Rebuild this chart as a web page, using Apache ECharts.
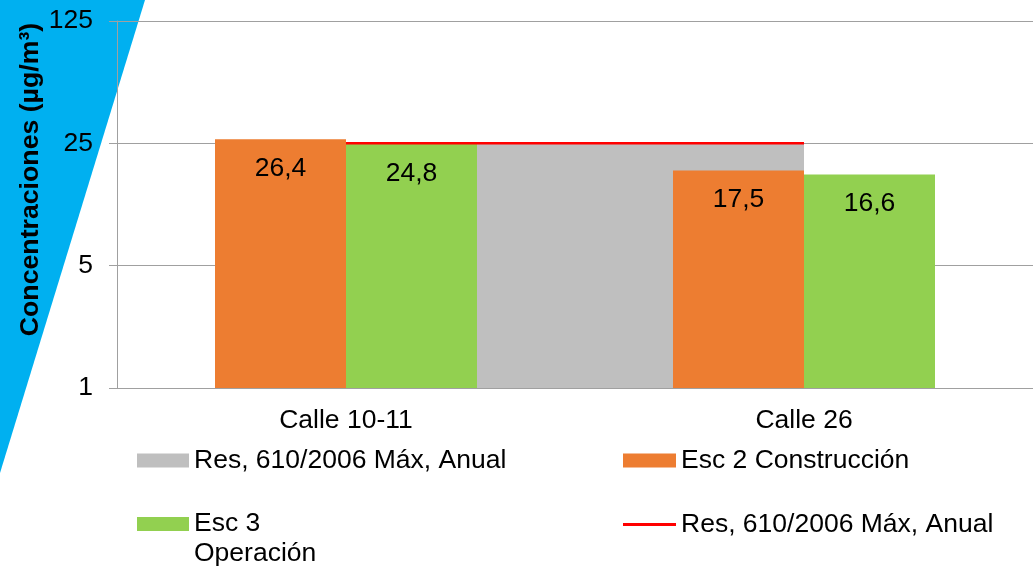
<!DOCTYPE html>
<html>
<head>
<meta charset="utf-8">
<script src="https://cdn.jsdelivr.net/npm/echarts@6/dist/echarts.min.js"></script>
<style>html,body{margin:0;padding:0;background:#fff;}#chart{width:1033px;height:570px;}</style>
</head>
<body>
<div id="chart"></div>
<script>
const categories = ['Calle 10-11', 'Calle 26'];
const esc2Construccion = [26.4, 17.5];
const esc3Operacion = [24.8, 16.6];
const limiteAnual = [25, 25];
const legendLabels = {
  limArea: 'Res, 610/2006 Máx, Anual',
  esc2: 'Esc 2 Construcción',
  esc3: ' \nEsc 3\nOperación',
  limLine: 'Res, 610/2006 Máx, Anual'
};
const yTitle = 'Concentraciones (µg/m³)';

const FONT = 'Liberation Sans, Arial, sans-serif';
const FS = 26.5;
const chart = echarts.init(document.getElementById('chart'));
const fmt = p => String(p.value).replace('.', ',');

chart.setOption({
  animation: false,
  textStyle: { fontFamily: FONT },
  graphic: [{
    type: 'polygon', z: -10,
    shape: { points: [[0, 0], [145, 0], [0, 473]] },
    style: { fill: '#00B0F0' }
  }],
  grid: { left: 117, right: -3, top: 21, bottom: 182 },
  xAxis: {
    type: 'category', data: categories,
    axisLine: { lineStyle: { color: '#A0A0A0', width: 1 } },
    axisTick: { length: 8, lineStyle: { color: '#A0A0A0' } },
    axisLabel: { color: '#000', fontSize: FS, margin: 19, fontFamily: FONT }
  },
  yAxis: {
    type: 'log', logBase: 5, min: 1, max: 125,
    name: yTitle, nameLocation: 'middle', nameGap: 73, nameRotate: 90, nameMoveOverlap: false,
    nameTextStyle: { color: '#000', fontSize: 26.7, fontWeight: 'bold', fontFamily: FONT, padding: [0, 0, 0, 50] },
    axisLine: { show: true, lineStyle: { color: '#A0A0A0' } },
    axisTick: { show: true, length: 8, lineStyle: { color: '#A0A0A0' } },
    axisLabel: { color: '#000', fontSize: FS, margin: 24, fontFamily: FONT },
    splitLine: { lineStyle: { color: '#A0A0A0', width: 1 } }
  },
  legend: [
    { left: 132, top: 442, itemWidth: 52, itemHeight: 14, icon: 'rect',
      data: ['limArea'], formatter: n => legendLabels[n],
      textStyle: { fontSize: FS, color: '#000' } },
    { left: 618, top: 442, itemWidth: 53, itemHeight: 14, icon: 'rect',
      data: ['esc2'], formatter: n => legendLabels[n],
      textStyle: { fontSize: FS, color: '#000' } },
    { left: 132, top: 474, itemWidth: 52, itemHeight: 14, icon: 'rect',
      data: ['esc3'], formatter: n => legendLabels[n],
      textStyle: { fontSize: FS, color: '#000', lineHeight: 30 } },
    { left: 618, top: 506, itemWidth: 53, itemHeight: 3, icon: 'rect',
      data: ['limLine'], formatter: n => legendLabels[n],
      textStyle: { fontSize: FS, color: '#000' } }
  ],
  series: [
    {
      name: 'limArea', type: 'line', data: limiteAnual, z: 1,
      symbol: 'none', color: '#BFBFBF',
      lineStyle: { width: 0, color: '#BFBFBF' },
      areaStyle: { color: '#BFBFBF', opacity: 1, origin: 'start' }
    },
    {
      name: 'esc2', type: 'bar', data: esc2Construccion, z: 2,
      barWidth: 131, barGap: '0%', color: '#ED7D31',
      label: { show: true, position: 'insideTop', distance: 16, color: '#000', fontSize: FS, formatter: fmt }
    },
    {
      name: 'esc3', type: 'bar', data: esc3Operacion, z: 2,
      barWidth: 131, barGap: '0%', color: '#92D050',
      label: { show: true, position: 'insideTop', distance: 16, color: '#000', fontSize: FS, formatter: fmt }
    },
    {
      name: 'limLine', type: 'line', data: limiteAnual, z: 3,
      symbol: 'none', color: '#FF0000',
      lineStyle: { width: 2.5, color: '#FF0000' }
    }
  ]
});
</script>
</body>
</html>
